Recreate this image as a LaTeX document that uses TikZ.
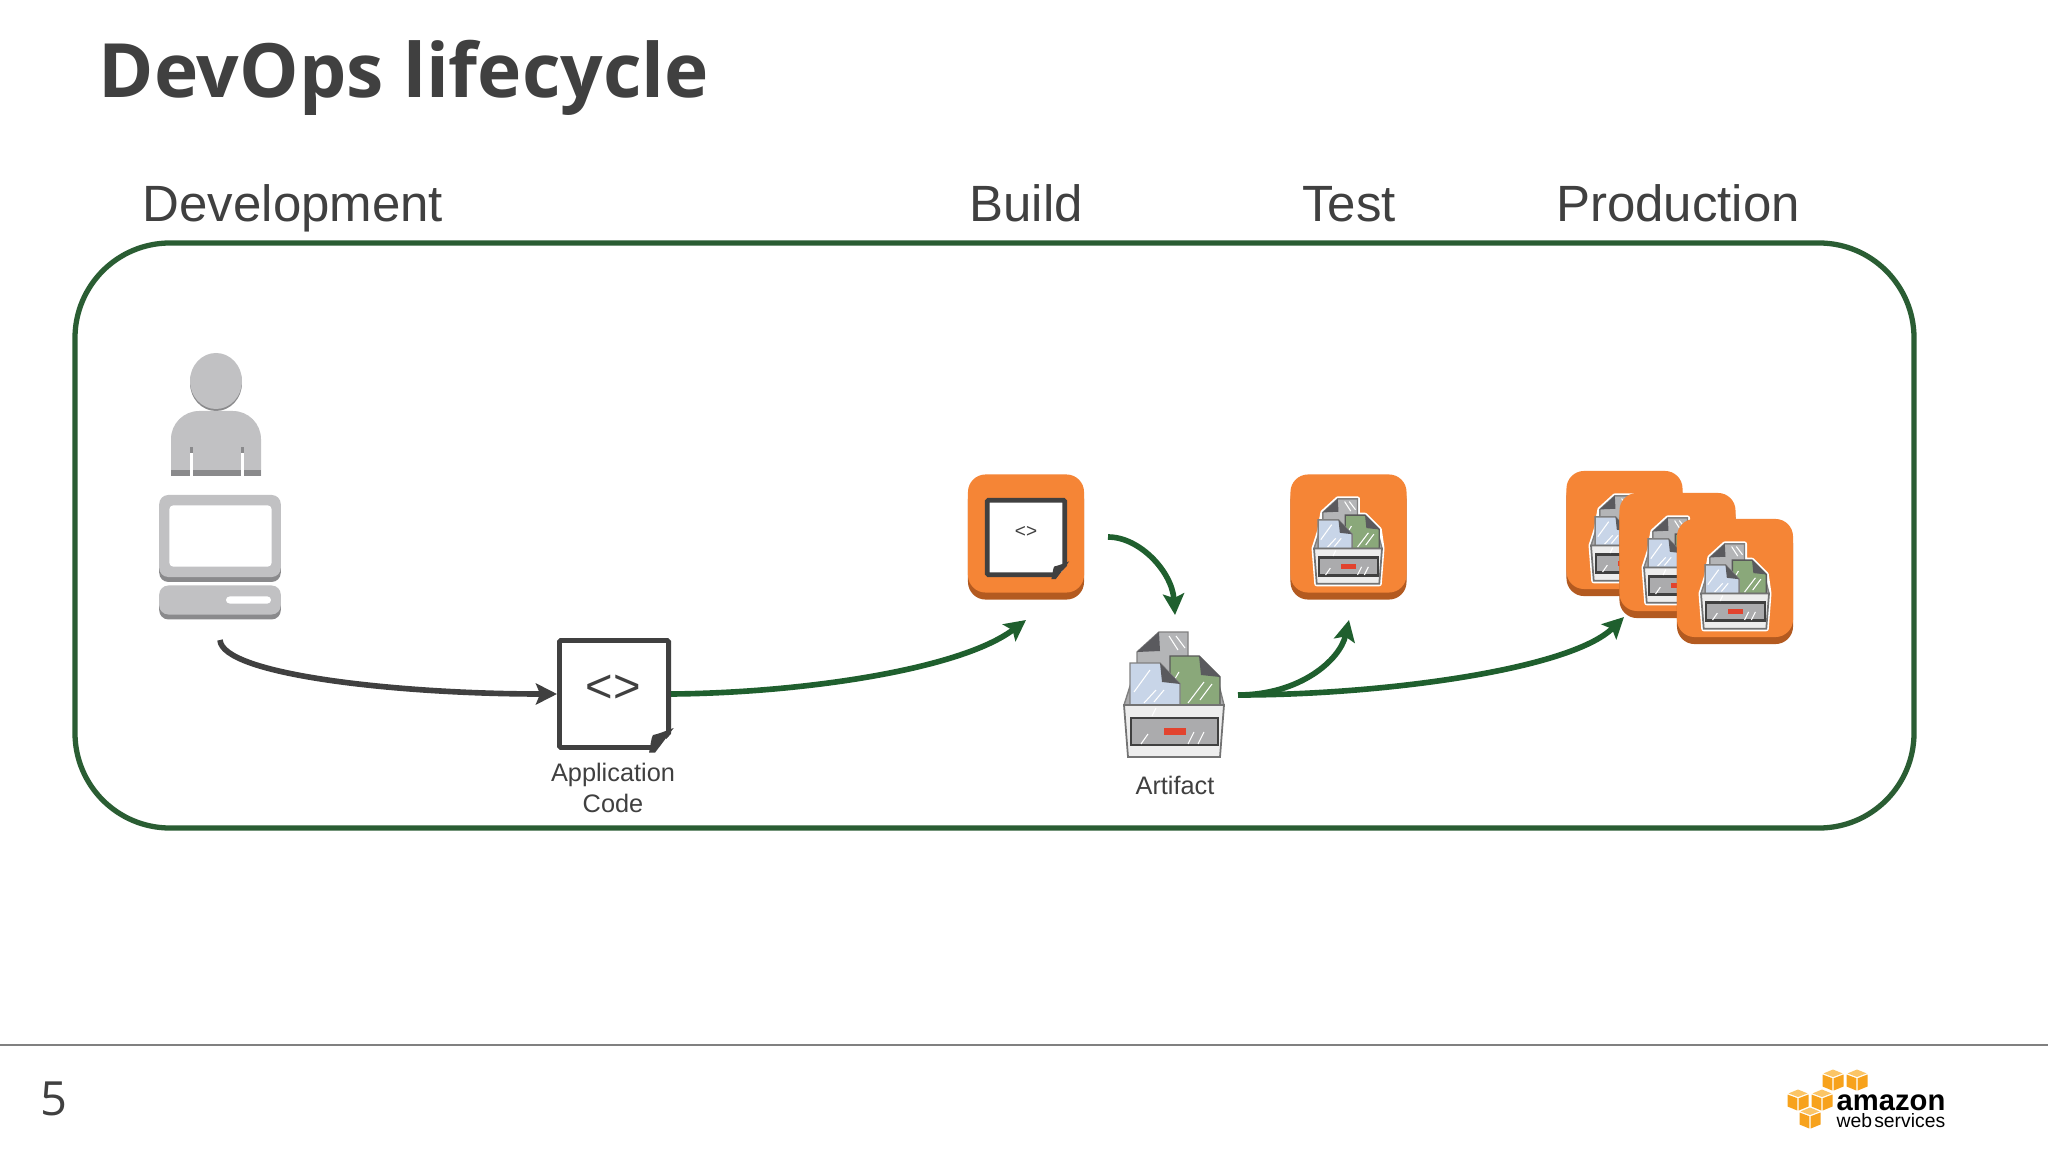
\documentclass[tikz,border=0pt]{standalone}
\usepackage{fontspec}
\setmainfont{Liberation Sans}
\newfontfamily\titlefont{Open Sans}
\usetikzlibrary{arrows.meta,positioning,calc,shadows}
\definecolor{slidetext}{HTML}{404040}
\definecolor{framegreen}{HTML}{2A5D33}
\definecolor{flowgreen}{HTML}{1F5F2E}
\definecolor{tileorange}{HTML}{F58536}
\definecolor{tilelip}{HTML}{B35A20}
\definecolor{devgrey}{HTML}{C1C1C3}
\definecolor{devlip}{HTML}{8A8A8C}
\definecolor{cubeorange}{HTML}{F7A21C}
\definecolor{cubetop}{HTML}{FBC566}
\definecolor{docgreen}{HTML}{8AA87A}
\definecolor{docblue}{HTML}{C8D5E8}
\definecolor{docgrey}{HTML}{B4B5B7}
\definecolor{docfoldgrey}{HTML}{5A5A5E}
\definecolor{boxfront}{HTML}{EDEDED}
\definecolor{drawergrey}{HTML}{ABABAD}
\definecolor{drawerred}{HTML}{E2432E}
\begin{document}
\begin{tikzpicture}[x=0.01cm,y=-0.01cm,
every node/.style={inner sep=0pt,text=slidetext},
heading/.style={anchor=base,font=\fontsize{14.5}{17}\selectfont},
caption/.style={align=center,font=\fontsize{7.2}{8.6}\selectfont},
greybox/.style={rectangle,rounded corners=2.6pt,fill=devgrey,minimum width=1.215cm,
drop shadow={shadow xshift=0pt,shadow yshift=-1.4pt,opacity=1,fill=devlip}},
tile/.style={rectangle,rounded corners=5pt,fill=tileorange,minimum width=1.16cm,minimum height=1.18cm,
drop shadow={shadow xshift=0pt,shadow yshift=-2pt,opacity=1,fill=tilelip}},
codedoc/.style={rectangle,draw=slidetext,fill=white,line width=1.4pt,rounded corners=.4pt},
flow/.style={draw=flowgreen,line width=1.6pt,-{Stealth[length=6pt,width=6pt,inset=1.2pt]}},
pics/docfold/.style={code={
\fill[#1] (-19,4)--(4,4)--(4,-20)--cycle;
\fill[slidetext] (-22,2.7) .. controls (-20,-6) and (-20,-12) .. (-18,-15) .. controls (-12,-16) and (-6,-19) .. (2.7,-22)--(-16,2.7)--cycle;
}},
pics/artifact/.style={code={
\filldraw[white,line width=1.4pt,line join=round] (-50,11)--(-42,-14)--(-37,-42)--(-15,-62)--(14,-62)--(14,-38)--(25,-38)--(46,-17)--(50,11)--(46,63)--(-46,63)--cycle;
\filldraw[fill=drawergrey,draw=gray,line width=.4pt] (-50,11)--(-42,-14)--(43,-17)--(50,11)--cycle;
\filldraw[fill=docgrey,draw=gray,line width=.4pt] (-37,-42)--(-15,-62)--(14,-62)--(14,-20)--(-37,-20)--cycle;
\fill[docfoldgrey] (-37,-42)--(-15,-62)--(-14,-43)--cycle;
\draw[white,line width=.3pt] (-5,-58)--(4,-44) (2,-58)--(11,-46);
\filldraw[fill=docgreen,draw=gray!70!black,line width=.4pt] (-4,-38)--(25,-38)--(46,-17)--(46,11)--(-4,11)--cycle;
\fill[docfoldgrey] (25,-38)--(46,-17)--(27,-19)--cycle;
\draw[white,line width=.3pt] (5,-22)--(-1,-12) (30,-12)--(14,9) (38,-10)--(26,6);
\filldraw[fill=docblue,draw=gray,line width=.4pt] (-44,-31)--(-14,-31)--(6,-10)--(6,11)--(-44,11)--cycle;
\fill[docfoldgrey] (-14,-31)--(6,-10)--(-12,-12)--cycle;
\draw[white,line width=.3pt] (-24,-24)--(-40,-2) (-18,-4)--(-30,9) (-10,-4)--(-20,8);
\filldraw[fill=boxfront,draw=gray!90!black,line width=.5pt] (-50,11)--(50,11)--(46,63)--(-46,63)--cycle;
\filldraw[fill=drawergrey,draw=slidetext,line width=.7pt] (-43,24) rectangle (44,51);
\fill[drawerred] (-10,34) rectangle (12,41);
\draw[white,line width=.3pt] (-26,40)--(-33,50) (20,38)--(14,50) (30,38)--(24,50) (-18,14)--(-22,22);
}},
pics/cube/.style={code={
\fill[cubeorange] (-10.5,-5.5)--(-.7,-1.8)--(-.7,10.5)--(-10.5,6.5)--cycle;
\fill[cubeorange] (10.5,-5.5)--(.7,-1.8)--(.7,10.5)--(10.5,6.5)--cycle;
\fill[cubetop] (0,-10.5)--(9.5,-6.6)--(0,-3)--(-9.5,-6.6)--cycle;
}}]
\useasboundingbox (0,0) rectangle (2048,1152);
\fill[white] (0,0) rectangle (2048,1152);

\node[anchor=base west,text=slidetext,font=\titlefont\bfseries\fontsize{21.3}{25}\selectfont] (Title) at (98,98) {DevOps lifecycle};
\node[heading] (H1) at (293,222) {Development};
\node[heading] (H2) at (1026,222) {Build};
\node[heading] (H3) at (1349,222) {Test};
\node[heading] (H4) at (1678,222) {Production};
\draw[framegreen,line width=1.5pt,rounded corners=27pt] (75,243) rectangle (1914,828);

\fill[devlip] (216,383) ellipse (26 and 28);
\fill[devgrey] (216,381) ellipse (26 and 28);
\fill[devgrey,rounded corners=8pt] (171,476)--(171,411)--(261,411)--(261,476);
\fill[devlip] (171,470) rectangle (261,476);
\fill[devlip] (189.5,447) rectangle (192.5,453);
\fill[devlip] (240.5,447) rectangle (243.5,453);
\fill[white] (189.5,453) rectangle (192.5,476);
\fill[white] (240.5,453) rectangle (243.5,476);
\node[greybox,minimum height=.82cm] (Mon) at (220,536) {};
\node[rectangle,fill=white,rounded corners=1pt,minimum width=1.02cm,minimum height=.61cm] (Scr) at (220.5,536) {};
\node[greybox,minimum height=.29cm] (Key) at (220,600) {};
\node[rectangle,fill=white,rounded corners=1pt,minimum width=.45cm,minimum height=.07cm] (Slot) at (248.5,600) {};
\coordinate (DevOut) at (220,640);

\node[codedoc,minimum width=1.09cm,minimum height=1.07cm] (Code) at (614,694) {};
\pic at (Code.south east) {docfold=white};
\node[font=\fontsize{13.4}{15}\selectfont] (CodeTag) at (613,689) {<>};
\node[caption] (CodeCap) at (613,788) {Application\\Code};

\node[tile] (Build) at (1026,533.5) {};
\node[codedoc,minimum width=.775cm,minimum height=.745cm] (BuildDoc) at (1026,537.5) {};
\pic[scale=.72] at (BuildDoc.south east) {docfold=tileorange};
\node[font=\fontsize{5.4}{6}\selectfont] (BuildTag) at (1026,532) {<>};

\pic at (1174,694) {artifact};
\node[font=\fontsize{7.2}{8.6}\selectfont] (ArtCap) at (1175,785) {Artifact};
\coordinate (Art) at (1238,695);
\coordinate (ArtIn) at (1175,615);
\coordinate (BuildOut) at (1108,537);
\coordinate (BuildIn) at (1026,620);
\coordinate (TestIn) at (1349,620);
\coordinate (ProdIn) at (1624,617);

\node[tile] (Test) at (1348.5,533.5) {};
\pic[scale=.68] at (1348,541) {artifact};
\node[tile] (P1) at (1624.5,530) {};
\pic[scale=.68] at (1625,538) {artifact};
\node[tile] (P2) at (1677.5,552) {};
\pic[scale=.68] at (1678,560) {artifact};
\node[tile] (P3) at (1735,578) {};
\pic[scale=.68] at (1735,586) {artifact};

\draw[draw=slidetext,line width=1.6pt,-{Stealth[length=6pt,width=6pt,inset=1.2pt]}] (DevOut) .. controls (222,675) and (400,694) .. (Code.west);
\draw[flow] (Code.east) .. controls (800,693) and (960,670) .. (BuildIn);
\draw[flow] (BuildOut) .. controls (1140,537) and (1172,572) .. (ArtIn);
\draw[flow] (Art) .. controls (1300,695) and (1340,660) .. (TestIn);
\draw[flow] (Art) .. controls (1380,695) and (1570,670) .. (ProdIn);

\draw[gray,line width=.3pt] (0,1045)--(2048,1045);
\node[anchor=base,font=\titlefont\fontsize{13.4}{16}\selectfont] (Page) at (54,1115) {5};

\pic at (1833,1080) {cube};
\pic at (1857,1080) {cube};
\pic at (1798,1100) {cube};
\pic at (1822,1100) {cube};
\pic at (1810,1118) {cube};
\node[anchor=base west,text=black,font=\bfseries\fontsize{8.3}{10}\selectfont] (Amz) at (1836,1110) {amazon};
\node[anchor=base west,text=black,font=\fontsize{5.5}{7}\selectfont] (Aws) at (1836,1127) {web\kern.6pt services};
\end{tikzpicture}
\end{document}
